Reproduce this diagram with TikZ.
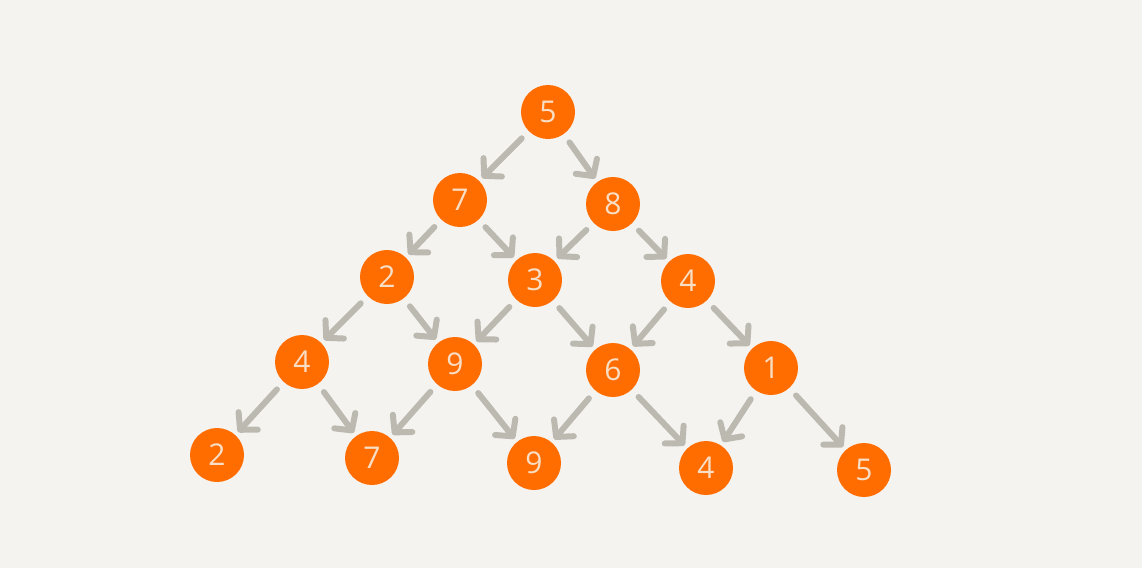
\documentclass[tikz,border=0pt]{standalone}
\usepackage{fontspec}
\setmainfont{Open Sans}
\usepackage{tikz}
\usetikzlibrary{arrows.meta, positioning}

\definecolor{paper}{HTML}{F5F3EF}
\definecolor{ball}{HTML}{FF6C00}
\definecolor{digit}{HTML}{F8DEC4}
\definecolor{link}{HTML}{BCB9B1}

\begin{document}
\begin{tikzpicture}[x=1pt, y=-1pt,
    num/.style={circle, fill=ball, minimum size=54pt, inner sep=0pt,
        text=digit, font=\fontsize{30}{30}\selectfont},
    go/.style={draw=link, line width=6pt, line cap=round,
        -{Straight Barb[length=12pt, width=26pt, round]},
        shorten <=10pt, shorten >=4pt}]
    \fill[paper] (0,0) rectangle (1142,568);

    \node[num] (top) at (548,112) {5};

    \node[num] (l7) at (460,200) {7};
    \node[num] (l8) at (613,204) {8};

    \node[num] (m2) at (387,277) {2};
    \node[num] (m3) at (535,280) {3};
    \node[num] (m4) at (688,281) {4};

    \node[num] (k4) at (302,362) {4};
    \node[num] (k9) at (455,364) {9};
    \node[num] (k6) at (613,370) {6};
    \node[num] (k1) at (771,368) {1};

    \node[num] (b2) at (217,455) {2};
    \node[num] (b7) at (372,458) {7};
    \node[num] (b9) at (534,463) {9};
    \node[num] (b4) at (706,468) {4};
    \node[num] (b5) at (864,470) {5};

    \draw[go] (top) -- (l7);
    \draw[go] (top) -- (l8);

    \draw[go] (l7) -- (m2);
    \draw[go] (l7) -- (m3);
    \draw[go] (l8) -- (m3);
    \draw[go] (l8) -- (m4);

    \draw[go] (m2) -- (k4);
    \draw[go] (m2) -- (k9);
    \draw[go] (m3) -- (k9);
    \draw[go] (m3) -- (k6);
    \draw[go] (m4) -- (k6);
    \draw[go] (m4) -- (k1);

    \draw[go] (k4) -- (b2);
    \draw[go] (k4) -- (b7);
    \draw[go] (k9) -- (b7);
    \draw[go] (k9) -- (b9);
    \draw[go] (k6) -- (b9);
    \draw[go] (k6) -- (b4);
    \draw[go] (k1) -- (b4);
    \draw[go] (k1) -- (b5);

\end{tikzpicture}
\end{document}
